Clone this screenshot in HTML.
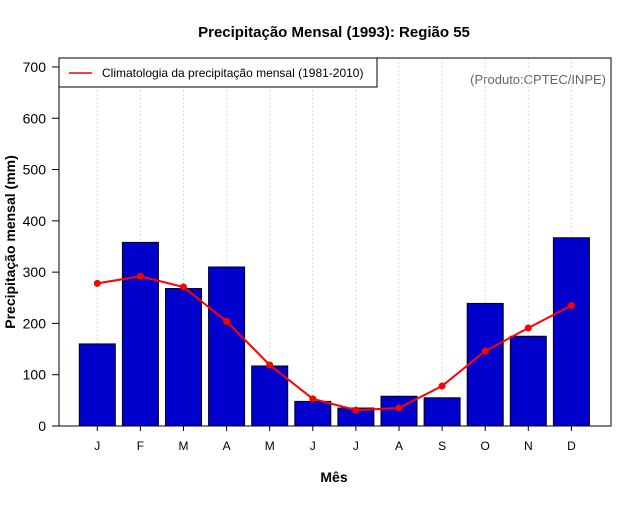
<!DOCTYPE html>
<html><head><meta charset="utf-8"><style>
body{margin:0;background:#fff;width:640px;height:500px;overflow:hidden}
svg text{font-family:"Liberation Sans",Arial,sans-serif}
</style></head><body>
<svg id="c" width="640" height="500" xmlns="http://www.w3.org/2000/svg">
<text x="334" y="37" text-anchor="middle" font-size="15" font-weight="bold">Precipitação Mensal (1993): Região 55</text>
<text x="334" y="482" text-anchor="middle" font-size="14" font-weight="bold">Mês</text>
<text transform="translate(15,242) rotate(-90)" text-anchor="middle" font-size="14" font-weight="bold">Precipitação mensal (mm)</text>
<text x="606" y="84" text-anchor="end" font-size="13" fill="#666">(Produto:CPTEC/INPE)</text>
<g id="grid"></g><g id="bars"></g><g id="line"></g><g id="axes"></g>
<rect x="59" y="58" width="552" height="368" fill="none" stroke="#000"/>
<g>
<rect x="59" y="58" width="318" height="29" fill="#fff" stroke="#000"/>
<line x1="69" y1="73" x2="92" y2="73" stroke="red" stroke-width="1.5"/>
<text x="102" y="77" font-size="12">Climatologia da precipitação mensal (1981-2010)</text>
</g>
</svg>
<script>
const months=["J","F","M","A","M","J","J","A","S","O","N","D"];
const precip=[160,358,268,310,117,48,35,58,55,239,175,367];
const clim=[278,292,271,204,119,53,31,35,78,146,191,235];
const yTicks=[0,100,200,300,400,500,600,700];
const NS="http://www.w3.org/2000/svg";
const x=i=>97.3+i*43.1;
const y=v=>426-v*0.5129;
function mk(t,a,p){const e=document.createElementNS(NS,t);for(const k in a)e.setAttribute(k,a[k]);document.getElementById(p).appendChild(e);return e;}
months.forEach((m,i)=>{
 const g=mk("line",{x1:x(i),x2:x(i),y1:58,y2:426,stroke:"#ddd","stroke-dasharray":"2,2"},"grid");
 
 
 const b=mk("rect",{x:x(i)-18,y:y(precip[i]),width:36,height:426-y(precip[i]),fill:"#0000cd",stroke:"#000"},"bars");
 
 
 const tk=mk("line",{x1:x(i),x2:x(i),y1:426,y2:431,stroke:"#000"},"axes");
 
 
 const t=mk("text",{x:x(i),y:450,"text-anchor":"middle","font-size":"12"},"axes");t.textContent=m;
 
 
});
const pl=mk("polyline",{points:clim.map((v,i)=>x(i)+","+y(v)).join(" "),fill:"none",stroke:"red","stroke-width":"2"},"line");


clim.forEach((v,i)=>{
 const c=mk("circle",{cx:x(i),cy:y(v),r:3.5,fill:"red"},"line");
 
 
});
yTicks.forEach(v=>{
 const l=mk("line",{x1:52,x2:59,y1:y(v),y2:y(v),stroke:"#000"},"axes");
 
 
 const t=mk("text",{x:46,y:y(v)+5,"text-anchor":"end","font-size":"14"},"axes");t.textContent=v;
 
 
});
</script>
</body></html>
